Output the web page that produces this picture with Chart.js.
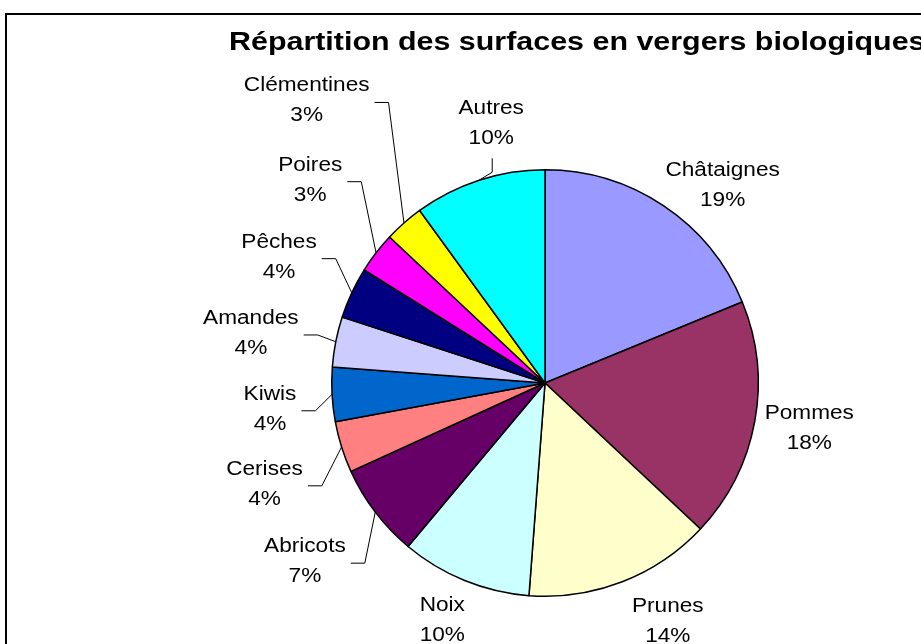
<!DOCTYPE html>
<html>
<head>
<meta charset="utf-8">
<script src="https://cdn.jsdelivr.net/npm/chart.js@4"></script>
<style>
  html, body { margin: 0; padding: 0; background: #fff; }
  #wrap { width: 921px; height: 644px; position: relative; }
</style>
</head>
<body>
<div id="wrap"><canvas id="pie"></canvas></div>
<script>
const chartTitle = "Répartition des surfaces en vergers biologiques";
const fruits = ["Châtaignes", "Pommes", "Prunes", "Noix", "Abricots", "Cerises",
                "Kiwis", "Amandes", "Pêches", "Poires", "Clémentines", "Autres"];
const shares = [18.8, 18.2, 14.2, 9.9, 7.1, 3.9, 4.1, 3.8, 3.9, 3.1, 3.0, 10.0];
const sliceColors = ["#9999FF", "#993366", "#FFFFCC", "#CCFFFF", "#660066", "#FF8080",
                     "#0066CC", "#CCCCFF", "#000080", "#FF00FF", "#FFFF00", "#00FFFF"];

// where each label sits: angle shift from the slice middle (deg) and distance past the rim (px)
const labelShift = [8.2, -0.6, -6, 1.2, 0.6, -2.4, -2.4, -1.6, 0.3, 3.2, 1.2, 6.3];
const labelGap = [52, 55, 55, 46, 86, 85, 63, 85, 81, 97, 156, 52];
// leader line kind: h = from the right side of the label, v = from below it
const leader = ["", "", "", "", "h", "h", "h", "h", "h", "h", "h", "v"];

const FONT = '"Liberation Sans", Arial, sans-serif';

// Excel output looks horizontally stretched, so draw text with an x scale
function wideText(ctx, txt, x, y, sx) {
  ctx.save();
  ctx.translate(x, y);
  ctx.scale(sx, 1);
  ctx.fillText(txt, 0, 0);
  ctx.restore();
}

const excelLook = {
  id: "excelLook",
  beforeDraw(chart) {
    const ctx = chart.ctx;
    ctx.save();
    ctx.fillStyle = "#fff";
    ctx.fillRect(0, 0, chart.width, chart.height);
    ctx.strokeStyle = "#000";
    ctx.lineWidth = 2;
    ctx.strokeRect(6, 14, 1000, 1000);
    ctx.fillStyle = "#000";
    ctx.font = "bold 26px " + FONT;
    ctx.textAlign = "left";
    ctx.textBaseline = "alphabetic";
    wideText(ctx, chartTitle, 229, 50, 1.17);
    ctx.restore();
  },
  afterDatasetsDraw(chart) {
    const ctx = chart.ctx;
    const meta = chart.getDatasetMeta(0);
    const total = shares.reduce((a, b) => a + b, 0);
    const sx = 1.16;
    ctx.save();
    ctx.font = "19.5px " + FONT;
    ctx.fillStyle = "#000";
    ctx.strokeStyle = "#000";
    ctx.lineWidth = 1;
    ctx.textAlign = "center";
    ctx.textBaseline = "middle";
    meta.data.forEach((arc, i) => {
      const p = arc.getProps(["x", "y", "startAngle", "endAngle", "outerRadius"], true);
      const mid = (p.startAngle + p.endAngle) / 2;
      const a = mid + labelShift[i] * Math.PI / 180;
      const d = p.outerRadius + labelGap[i];
      const cx = p.x + Math.cos(a) * d;
      const cy = p.y + Math.sin(a) * d;
      const pct = Math.round(shares[i] / total * 100) + "%";
      wideText(ctx, fruits[i], cx, cy - 15, sx);
      wideText(ctx, pct, cx, cy + 15, sx);

      const ax = p.x + Math.cos(mid) * p.outerRadius;
      const ay = p.y + Math.sin(mid) * p.outerRadius;
      if (leader[i] === "h") {
        const w = Math.max(ctx.measureText(fruits[i]).width, ctx.measureText(pct).width) * sx;
        const x0 = cx + w / 2 + 5;
        ctx.beginPath();
        ctx.moveTo(x0, cy + 1.5);
        ctx.lineTo(x0 + 14, cy + 1.5);
        ctx.lineTo(ax, ay);
        ctx.stroke();
      } else if (leader[i] === "v") {
        const y0 = cy + 35;
        ctx.beginPath();
        ctx.moveTo(cx + 1, y0);
        ctx.lineTo(cx + 1, y0 + 14);
        ctx.lineTo(ax, ay);
        ctx.stroke();
      }
    });
    ctx.restore();
  }
};

new Chart(document.getElementById("pie"), {
  type: "pie",
  data: {
    labels: fruits,
    datasets: [{
      data: shares,
      backgroundColor: sliceColors,
      borderColor: "#000",
      borderWidth: 1.5,
      hoverOffset: 0
    }]
  },
  options: {
    responsive: true,
    maintainAspectRatio: false,
    animation: false,
    events: [],
    layout: { padding: { left: 331, right: 162, top: 169, bottom: 47 } },
    plugins: {
      legend: { display: false },
      title: { display: false },
      tooltip: { enabled: false }
    }
  },
  plugins: [excelLook]
});
</script>
</body>
</html>
